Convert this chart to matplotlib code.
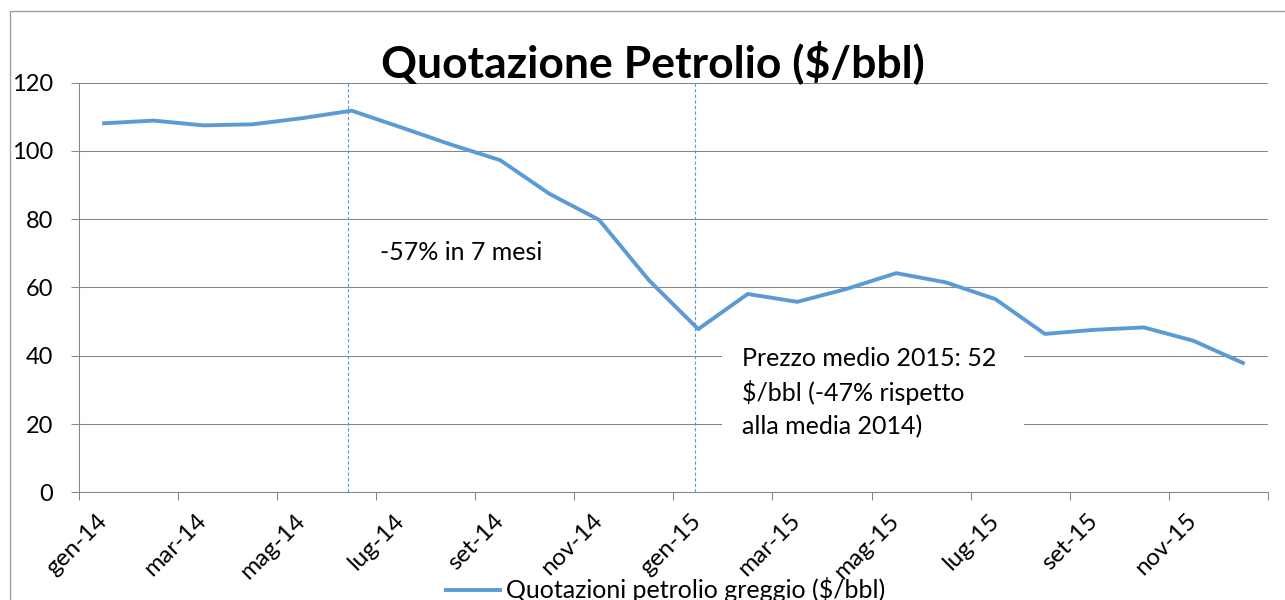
#!/usr/bin/env python
# -*- coding: utf-8 -*-

"""
Quotazione petrolio greggio, medie mensili gen-14 .. dic-15.
"""

import numpy as np
import matplotlib
matplotlib.use('Agg')
import matplotlib.pyplot as plt
from matplotlib.patches import Rectangle

MONTHS = ['gen-14', 'feb-14', 'mar-14', 'apr-14', 'mag-14', 'giu-14',
          'lug-14', 'ago-14', 'set-14', 'ott-14', 'nov-14', 'dic-14',
          'gen-15', 'feb-15', 'mar-15', 'apr-15', 'mag-15', 'giu-15',
          'lug-15', 'ago-15', 'set-15', 'ott-15', 'nov-15', 'dic-15']
PRICES = [108.1, 108.9, 107.5, 107.8, 109.6, 111.8,
          106.9, 101.9, 97.3, 87.4, 79.8, 62.2,
          47.8, 58.1, 55.8, 59.6, 64.2, 61.5,
          56.6, 46.4, 47.6, 48.3, 44.4, 37.9]
SERIES_NAME = 'Quotazioni petrolio greggio ($/bbl)'
TITLE = 'Quotazione Petrolio ($/bbl)'
PEAK_MONTH = 'giu-14'
LOW_MONTH = 'gen-15'
NOTE_DROP = '-57% in 7 mesi'
NOTE_2015 = 'Prezzo medio 2015: 52\n$/bbl (-47% rispetto\nalla media 2014)'

BLUE = '#5B9BD5'
GREY = '#868686'


def main():
    plt.rcParams['font.family'] = ['Lato', 'DejaVu Sans']
    fig = plt.figure(figsize=(12.85, 6), dpi=100)
    ax = fig.add_axes([0.0617, 0.1795, 0.9248, 0.6827])

    x = np.arange(len(MONTHS))
    ax.plot(x, PRICES, color=BLUE, lw=2.8, label=SERIES_NAME, zorder=4)

    ax.set_xlim(-0.5, len(MONTHS) - 0.5)
    ax.set_ylim(0, 120)
    ax.set_yticks(range(0, 121, 20))
    ax.yaxis.grid(True, color=GREY, lw=0.75)
    ax.set_axisbelow(True)

    for s in ['top', 'right']:
        ax.spines[s].set_visible(False)
    for s in ['left', 'bottom']:
        ax.spines[s].set_color(GREY)
        ax.spines[s].set_linewidth(0.75)

    ax.tick_params(axis='y', length=5.8, width=0.75, color=GREY, pad=13,
                   labelsize=17)
    ax.set_xticks(x[::2])
    ax.set_xticklabels(MONTHS[::2])
    ax.set_xticks(np.arange(-0.5, len(MONTHS), 2), minor=True)
    ax.tick_params(axis='x', which='major', length=0, pad=18, labelsize=17.5)
    ax.tick_params(axis='x', which='minor', length=5.8, width=0.75, color=GREY)
    for lbl in ax.get_xticklabels():
        lbl.set_rotation(45)
        lbl.set_ha('right')
        lbl.set_va('center')
        lbl.set_rotation_mode('anchor')

    # dashed markers on peak and low
    for m in [PEAK_MONTH, LOW_MONTH]:
        ax.axvline(MONTHS.index(m) - 0.07, color=BLUE, lw=0.8,
                   ls=(0, (3, 2)), zorder=3)

    ax.text(5.575, 68.1, NOTE_DROP, fontsize=18, va='baseline', ha='left')

    # white text box hides the gridlines behind it
    ax.add_patch(Rectangle((12.48, 10.9), 6.1, 34.3, facecolor='white',
                           edgecolor='none', zorder=2))
    ax.text(12.88, 42.6, NOTE_2015, fontsize=18, va='top', ha='left',
            linespacing=1.5, zorder=5)

    fig.text(0.5078, 0.8717, TITLE, ha='center', va='baseline',
             fontsize=32, fontweight='bold')

    ax.legend(loc='center', bbox_to_anchor=(0.518, 0.0167),
              bbox_transform=fig.transFigure, frameon=False, fontsize=18,
              handlelength=2.15, handletextpad=0.22)

    fig.add_artist(Rectangle((10 / 1285, -0.05), 1.1, 589.5 / 600 + 0.05,
                             transform=fig.transFigure, fill=False,
                             edgecolor='#a0a0a0', lw=1))

    fig.savefig('out.png', dpi=100)


if __name__ == "__main__":
    main()
